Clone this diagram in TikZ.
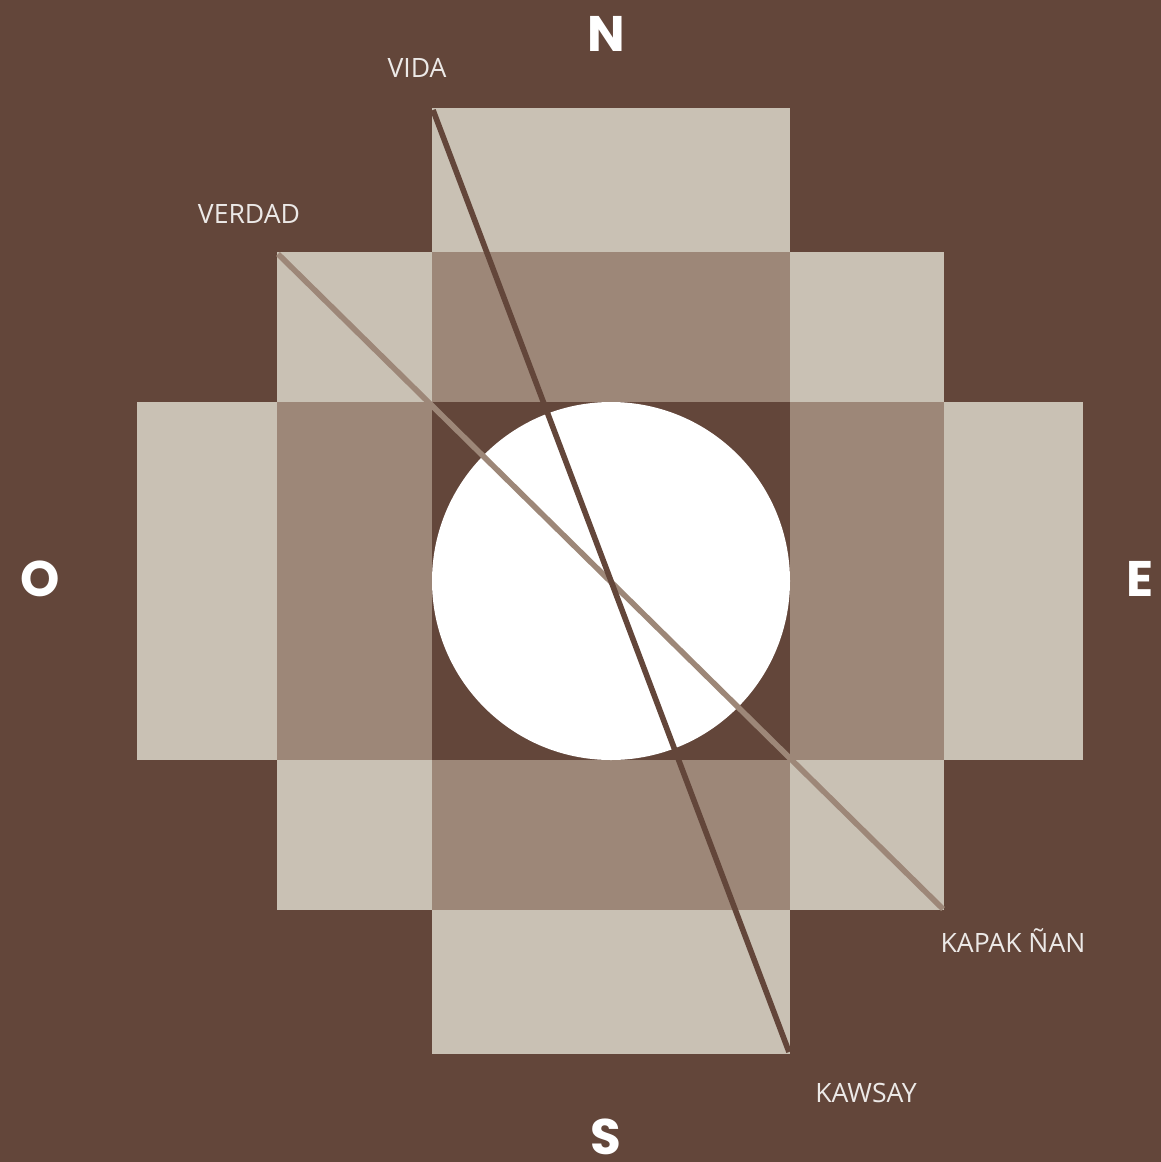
\documentclass[tikz,border=0pt]{standalone}
\usepackage{fontspec}
\setmainfont{Open Sans}
\newfontfamily\pointfont{Poppins}
\definecolor{ChakanaBrown}{HTML}{63463A}
\definecolor{StoneBeige}{HTML}{C9C1B4}
\definecolor{ClayTaupe}{HTML}{9D8778}

\begin{document}
\begin{tikzpicture}[
    x=0.5pt, y=-0.5pt,
    outer/.style={fill=StoneBeige, draw=none},
    inner/.style={fill=ClayTaupe, draw=none},
    core/.style={fill=ChakanaBrown, draw=none},
    point/.style={text=white, inner sep=0pt, anchor=base, font=\pointfont\bfseries\fontsize{25}{25}\selectfont},
    axislabel/.style={text=white!88!ChakanaBrown, inner sep=0pt, anchor=base, font=\fontsize{13.3}{14}\selectfont},
    axis/.style={line width=2.8pt, line cap=butt}
  ]
    \fill[ChakanaBrown] (0,0) rectangle (1161,1162);
    \useasboundingbox (0,0) rectangle (1161,1162);

    % stepped cross, three layers
    \fill[outer] (432,108) rectangle (790,1054);
    \fill[outer] (277,252) rectangle (944,910);
    \fill[outer] (137,402) rectangle (1083,760);
    \fill[inner] (432,252) rectangle (790,910);
    \fill[inner] (277,402) rectangle (944,760);
    \fill[core] (432,402) rectangle (790,760);

    \node[circle, fill=white, minimum size=179pt, inner sep=0pt] (sun) at (611,581) {};

    \coordinate (vidaTop) at (433,110);
    \coordinate (vidaBot) at (789,1052);
    \coordinate (verdadTop) at (278,254);
    \coordinate (verdadBot) at (943,909);
    \draw[axis, draw=ClayTaupe] (verdadTop) -- (verdadBot);
    \draw[axis, draw=ChakanaBrown] (vidaTop) -- (vidaBot);

    \node[point] (north) at (606,51) {N};
    \node[point] (south) at (606,1154) {S};
    \node[point] (west) at (40,596) {O};
    \node[point] (east) at (1140,596) {E};

    \node[axislabel] (vida) at (417,77) {VIDA};
    \node[axislabel] (verdad) at (249,223) {VERDAD};
    \node[axislabel] (kapak) at (1013,952) {KAPAK ÑAN};
    \node[axislabel] (kawsay) at (866,1102) {KAWSAY};
  \end{tikzpicture}
\end{document}
